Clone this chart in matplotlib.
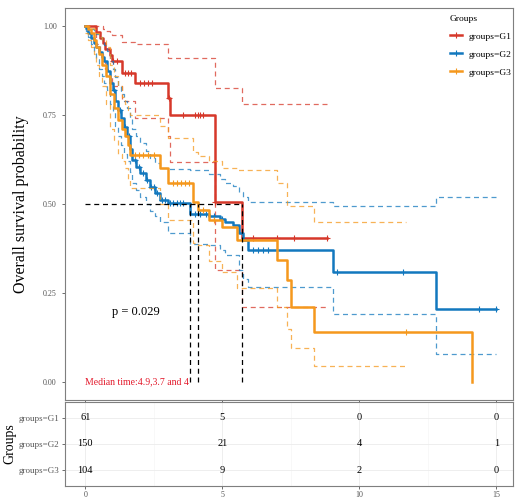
import numpy as np
import matplotlib
matplotlib.use("Agg")
import matplotlib.pyplot as plt
from matplotlib.lines import Line2D

plt.rcParams['font.family'] = ['Liberation Serif', 'DejaVu Serif']

groups = ["groups=G1", "groups=G2", "groups=G3"]
colors = ["#D6382A", "#1278BE", "#F5981D"]

# Kaplan-Meier steps (time, survival)
g1_t = [0, 0.4, 0.55, 0.65, 0.73, 0.91, 0.98, 1.35, 1.82, 3.0, 3.1, 4.74, 5.73, 8.8]
g1_s = [1.0, 0.984, 0.967, 0.951, 0.934, 0.918, 0.9, 0.868, 0.84, 0.797, 0.75, 0.506, 0.405, 0.405]
g1_up = [1.0, 1.0, 1.0, 0.99, 0.985, 0.98, 0.975, 0.955, 0.95, 0.91, 0.91, 0.826, 0.78, 0.78]
g1_lo = [1.0, 0.95, 0.92, 0.9, 0.88, 0.86, 0.83, 0.79, 0.74, 0.69, 0.618, 0.316, 0.21, 0.21]
g1_cens = [1.0, 1.15, 1.45, 1.55, 1.68, 2.0, 2.15, 2.3, 2.45, 3.05, 3.55, 4.0, 4.1, 4.2, 4.3, 4.75, 6.1, 7.0, 7.6, 8.8]

g2_t = [0, 0.02, 0.1, 0.2, 0.3, 0.4, 0.5, 0.6, 0.7, 0.8, 0.91, 1.0, 1.1, 1.2, 1.3, 1.4, 1.53,
        1.63, 1.72, 1.85, 2.0, 2.2, 2.37, 2.55, 2.74, 3.0, 3.83, 4.5, 4.9, 5.1, 5.4, 5.6, 5.77,
        5.95, 9.05, 12.8, 15.0]
g2_s = [1.0, 0.993, 0.98, 0.967, 0.953, 0.94, 0.927, 0.913, 0.9, 0.873, 0.84, 0.82, 0.79, 0.764,
        0.74, 0.715, 0.69, 0.655, 0.624, 0.605, 0.587, 0.567, 0.548, 0.53, 0.511, 0.503, 0.472,
        0.465, 0.458, 0.45, 0.44, 0.42, 0.40, 0.37, 0.309, 0.206, 0.206]
g2_up = [1.0, 1.0, 0.995, 0.99, 0.985, 0.978, 0.97, 0.96, 0.945, 0.93, 0.9, 0.88, 0.855, 0.83,
         0.81, 0.79, 0.77, 0.74, 0.71, 0.69, 0.67, 0.65, 0.63, 0.615, 0.60, 0.598, 0.596,
         0.585, 0.57, 0.56, 0.55, 0.535, 0.52, 0.505, 0.494, 0.52, 0.52]
g2_lo = [0.99, 0.985, 0.97, 0.95, 0.93, 0.91, 0.88, 0.86, 0.84, 0.82, 0.78, 0.76, 0.72, 0.69,
         0.665, 0.64, 0.62, 0.59, 0.56, 0.54, 0.52, 0.5, 0.48, 0.465, 0.45, 0.42, 0.388,
         0.385, 0.37, 0.357, 0.357, 0.315, 0.29, 0.267, 0.19, 0.08, 0.08]
g2_cens = [1.05, 1.25, 1.45, 1.6, 1.8, 1.95, 2.1, 2.25, 2.4, 2.5, 2.6, 2.8, 2.9, 3.1, 3.2, 3.36,
           3.47, 3.58, 4.0, 4.2, 4.4, 4.7, 5.0, 6.13, 6.3, 6.5, 6.68, 9.2, 11.6, 14.35, 15.0]

g3_t = [0, 0.1, 0.2, 0.3, 0.4, 0.5, 0.62, 0.75, 0.91, 1.05, 1.2, 1.35, 1.46, 1.55, 1.64, 2.74,
        3.0, 3.94, 4.12, 4.5, 5.0, 5.55, 7.0, 7.37, 7.5, 8.36, 14.1]
g3_s = [1.0, 0.99, 0.98, 0.96, 0.94, 0.92, 0.89, 0.86, 0.81, 0.77, 0.736, 0.71, 0.69, 0.665,
        0.638, 0.60, 0.559, 0.505, 0.483, 0.455, 0.435, 0.40, 0.343, 0.287, 0.21, 0.14, 0.0]
g3_up = [1.0, 1.0, 0.995, 0.99, 0.98, 0.97, 0.96, 0.94, 0.89, 0.86, 0.83, 0.8, 0.78, 0.765,
         0.75, 0.72, 0.685, 0.646, 0.635, 0.62, 0.60, 0.595, 0.56, 0.494, 0.494, 0.45, np.nan]
g3_lo = [0.98, 0.96, 0.94, 0.92, 0.89, 0.86, 0.83, 0.78, 0.71, 0.68, 0.64, 0.62, 0.6, 0.57,
         0.545, 0.5, 0.455, 0.39, 0.385, 0.34, 0.31, 0.264, 0.21, 0.15, 0.095, 0.045, np.nan]
g3_cens = [1.8, 1.95, 2.1, 2.3, 2.5, 3.2, 3.35, 3.5, 3.65, 3.8, 4.3, 4.7, 11.7]
g3_ci_end = 11.7

medians = [5.73, 3.83, 4.12]
risk_times = [0, 5, 10, 15]
risk_g1 = [61, 5, 0, 0]
risk_g2 = [150, 21, 4, 1]
risk_g3 = [104, 9, 2, 0]

fig = plt.figure(figsize=(5.16, 5.0), dpi=100)
ax = fig.add_axes([0.126, 0.2, 0.868, 0.784])
tab = fig.add_axes([0.126, 0.028, 0.868, 0.168])

curves = [
    (g1_t, g1_s, g1_up, g1_lo, g1_cens, None),
    (g2_t, g2_s, g2_up, g2_lo, g2_cens, None),
    (g3_t, g3_s, g3_up, g3_lo, g3_cens, g3_ci_end),
]

for (t, s, up, lo, cens, ci_end), col in zip(curves, colors):
    t = np.array(t, dtype=float)
    s = np.array(s, dtype=float)
    up = np.array(up, dtype=float)
    lo = np.array(lo, dtype=float)
    ct = t.copy()
    if ci_end is not None:
        ct[-1] = ci_end
        up[-1] = up[-2]
        lo[-1] = lo[-2]
    ax.step(ct, up, where="post", color=col, lw=0.9, ls=(0, (4, 3)), alpha=0.75)
    ax.step(ct, lo, where="post", color=col, lw=0.9, ls=(0, (4, 3)), alpha=0.75)
    ax.step(t, s, where="post", color=col, lw=1.8)
    cy = [s[np.searchsorted(t, c, side="right") - 1] for c in cens]
    ax.plot(cens, cy, ls="none", marker="+", ms=5, mew=0.8, color=col)

# median lines
ax.plot([0, max(medians)], [0.5, 0.5], color="black", ls=(0, (4, 3)), lw=0.9)
for m in medians:
    ax.plot([m, m], [0, 0.5], color="black", ls=(0, (4, 3)), lw=0.9)

ax.text(0.99, 0.197, "p = 0.029", fontsize=9, ha="left", va="center")
ax.text(0.0, 0.0, "Median time:4.9,3.7 and 4", fontsize=7, color="#E31A2C",
        ha="left", va="center")

ax.set_xlim(-0.74, 15.6)
ax.set_ylim(-0.05, 1.05)
ax.set_xticks([0, 5, 10, 15])
ax.set_xticklabels([])
ax.set_yticks([0, 0.25, 0.5, 0.75, 1.0])
ax.set_yticklabels(["0.00", "0.25", "0.50", "0.75", "1.00"])
ax.tick_params(labelsize=5.8, labelcolor="#555555", color="#555555", length=2.5, width=0.6)
ax.set_ylabel("Overall survival probability", fontsize=11.5, labelpad=10)
for sp in ax.spines.values():
    sp.set_color("#7f7f7f")
    sp.set_linewidth(0.8)

handles = [Line2D([0], [0], color=c, lw=1.8, marker="+", ms=5, mew=0.8) for c in colors]
leg = ax.legend(handles, groups, title="Groups", loc="upper left",
                bbox_to_anchor=(0.845, 1.0), frameon=False, fontsize=6.8,
                title_fontsize=6.8, handlelength=1.3, handletextpad=0.7,
                labelspacing=1.0, borderaxespad=0.3)
leg._legend_box.align = "left"

# risk table
rows = [risk_g1, risk_g2, risk_g3]
for i, r in enumerate(rows):
    for tt, n in zip(risk_times, r):
        tab.text(tt, i + 1, str(n), ha="center", va="center", fontsize=7.5)
tab.set_xlim(-0.74, 15.6)
tab.set_ylim(3.6, 0.4)
tab.set_xticks([0, 5, 10, 15])
tab.set_xticks([2.5, 7.5, 12.5], minor=True)
tab.set_yticks([1, 2, 3])
tab.set_yticklabels(groups)
tab.grid(True, which="major", color="#ebebeb", lw=0.6)
tab.grid(True, which="minor", axis="x", color="#f3f3f3", lw=0.4)
tab.tick_params(which="minor", length=0)
tab.tick_params(labelsize=6.5, labelcolor="#555555", color="#555555", length=2.5, width=0.6, pad=1.5)
tab.tick_params(axis="x", labelsize=5.8, pad=1)
tab.set_axisbelow(True)
tab.set_ylabel("Groups", fontsize=10, labelpad=2)
for sp in tab.spines.values():
    sp.set_color("#7f7f7f")
    sp.set_linewidth(0.8)

fig.savefig("out.png", dpi=100)
